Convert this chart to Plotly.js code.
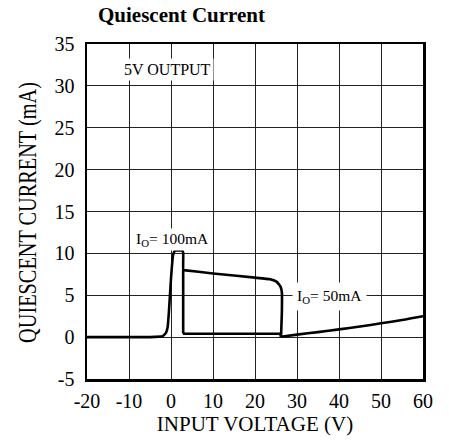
<!DOCTYPE html>
<html><head><meta charset="utf-8">
<script src="https://cdn.plot.ly/plotly-3.0.1.min.js"></script>
<style>html,body{margin:0;padding:0;background:#fff}#c{width:449px;height:445px}</style>
</head><body><div id="c"></div>
<script>
// I_O = 100mA path
const mainX = [-20, -5, -2, -1.2, -0.8, -0.5, 0, 0.5, 0.9, 1.2, 2.6, 2.9, 2.9, 3.0, 10, 20, 23.6, 25.2, 26.1, 26.4, 26.4, 26.2];
const mainY = [0, 0, 0.1, 0.5, 1.2, 3, 7, 9.8, 10.3, 10.35, 10.35, 10.1, 8.0, 8.0, 7.6, 7.1, 6.9, 6.6, 6.0, 5.3, 3, 0.05];
// lower flat branch
const flatX = [2.9, 2.9, 3.1, 26, 26.2];
const flatY = [8.0, 0.6, 0.4, 0.4, 0.05];
// I_O = 50mA tail
const tailX = [26.2, 30, 35, 40, 45, 50, 55, 60];
const tailY = [0.05, 0.3, 0.6, 0.93, 1.27, 1.65, 2.05, 2.5];
const xTicks = [-20, -10, 0, 10, 20, 30, 40, 50, 60];
const xTickText = ['-20', '-10', '0', '10', '20', '30', '40', '50', '60'];
const yTicks = [-5, 0, 5, 10, 15, 20, 25, 30, 35];
const yTickText = ['-5', '0', '5', '10', '15', '20', '25', '30', '35'];

const font = "Liberation Serif, Times New Roman, serif";
const traces = [
  {x: mainX, y: mainY, mode: 'lines', line: {color: '#000', width: 2.6, shape: 'spline', smoothing: 0.3}, hoverinfo: 'skip'},
  {x: flatX, y: flatY, mode: 'lines', line: {color: '#000', width: 2.6}, hoverinfo: 'skip'},
  {x: tailX, y: tailY, mode: 'lines', line: {color: '#000', width: 2.6, shape: 'spline', smoothing: 0.8}, hoverinfo: 'skip'}
];
const axisCommon = {
  showgrid: true, gridcolor: '#222', gridwidth: 1,
  showline: true, linecolor: '#000', linewidth: 2.5, mirror: true,
  zeroline: false, ticks: '', tickfont: {family: font, size: 20, color: '#000'},
  fixedrange: true
};
const layout = {
  width: 449, height: 445,
  margin: {l: 87, r: 26, t: 44, b: 66},
  paper_bgcolor: '#fff', plot_bgcolor: '#fff',
  showlegend: false,
  title: {text: '<b>Quiescent Current</b>', x: 98/449, xanchor: 'left', y: 1 - 15/445, yanchor: 'middle',
          font: {family: font, size: 21, color: '#000'}},
  xaxis: Object.assign({}, axisCommon, {range: [-20, 60], tickvals: xTicks, ticktext: xTickText, ticklabelstandoff: 2,
          title: {text: 'INPUT VOLTAGE (V)', font: {family: font, size: 21, color: '#000'}, standoff: 6}}),
  yaxis: Object.assign({}, axisCommon, {range: [-5, 35], tickvals: yTicks, ticktext: yTickText, ticklabelstandoff: 6,
          title: {text: 'QUIESCENT CURRENT (mA)', font: {family: font, size: 26, color: '#000'}, standoff: 12}}),
  annotations: [
    {x: -0.8, y: 32, xref: 'x', yref: 'y', text: '5V OUTPUT', showarrow: false, bgcolor: '#fff',
     font: {family: font, size: 16, color: '#000'}, borderpad: 2},
    {x: 0.3, y: 11.7, xref: 'x', yref: 'y', text: 'I<sub>O</sub>= 100mA', showarrow: false, bgcolor: '#fff',
     font: {family: font, size: 15.5, color: '#000'}, borderpad: 1},
    {x: 37.8, y: 4.9, xref: 'x', yref: 'y', text: 'I<sub>O</sub>= 50mA', showarrow: false, bgcolor: '#fff',
     font: {family: font, size: 15.5, color: '#000'}, borderpad: 4}
  ]
};
Plotly.newPlot('c', traces, layout, {displayModeBar: false, staticPlot: true}).then(function () {
  // condense the vertical axis title to match the narrow lettering of the reference
  const t = document.querySelector('.ytitle');
  if (!t) return;
  const bb = t.getBBox();
  const cx = bb.x + bb.width / 2, cy = bb.y + bb.height / 2;
  const s = 261 / bb.width;
  t.setAttribute('transform', 'translate(27.5,212.5) rotate(-90) scale(' + s + ',1) translate(' + (-cx) + ',' + (-cy) + ')');
});
</script></body></html>
